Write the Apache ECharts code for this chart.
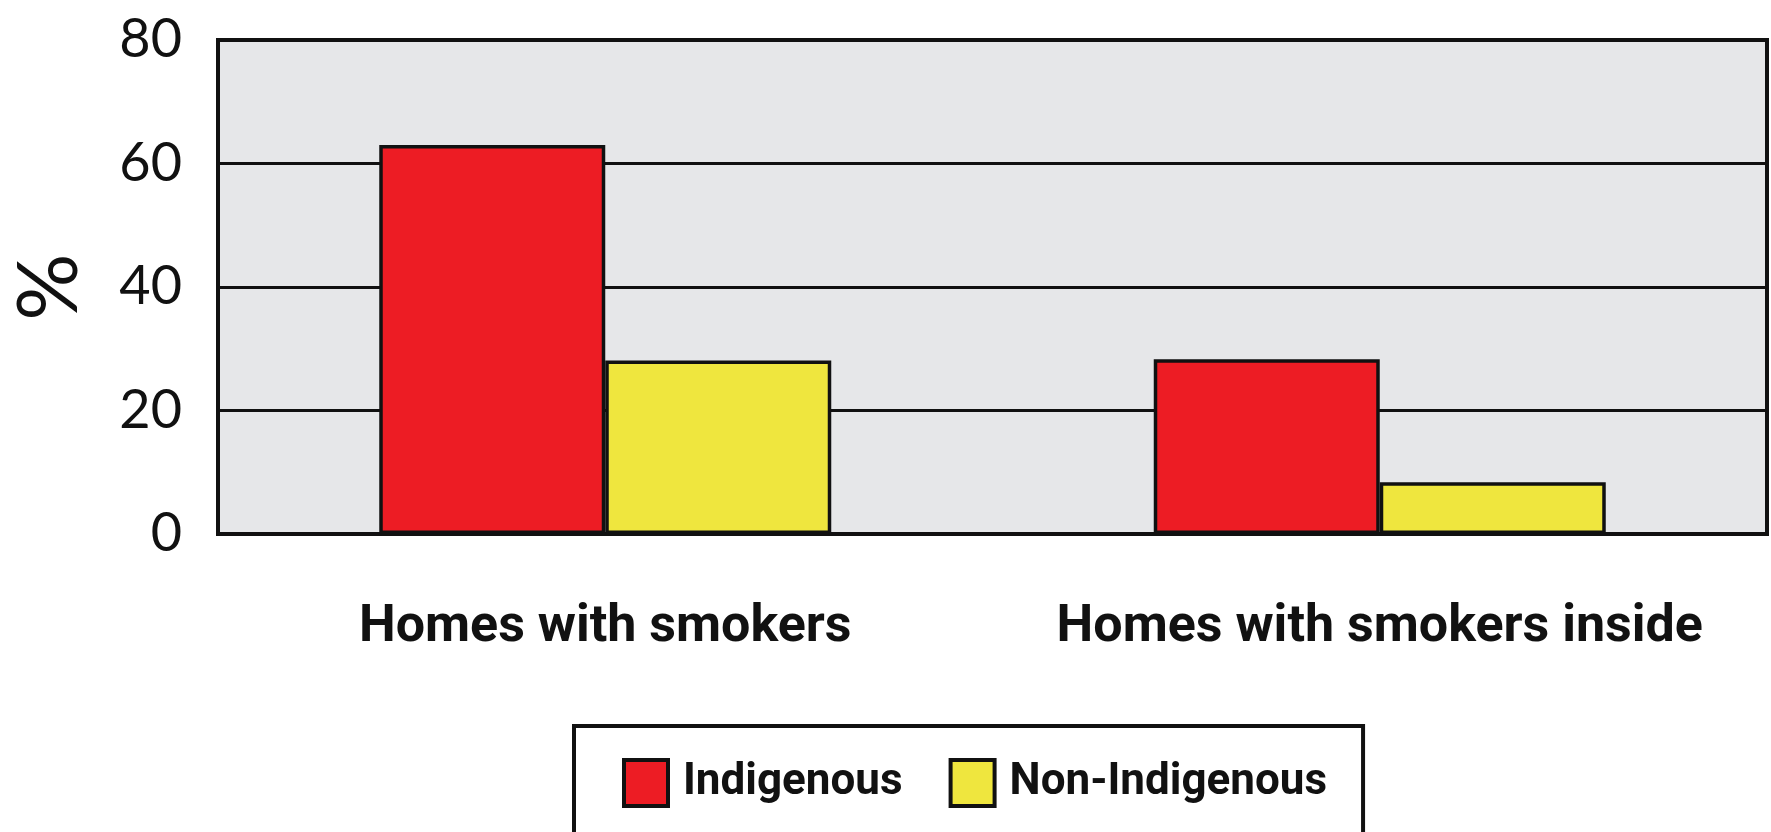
<!DOCTYPE html>
<html><head><meta charset="utf-8">
<script src="https://cdn.jsdelivr.net/npm/echarts@6/dist/echarts.min.js"></script>
<style>html,body{margin:0;padding:0;background:#fff}#c{width:1771px;height:832px}</style>
</head><body><div id="c"></div>
<script>
const categories = ['Homes with smokers', 'Homes with smokers inside'];
const indigenous = [63, 28.3];
const nonIndigenous = [28.1, 8.4];
const yTicks = [0, 20, 40, 60, 80];

const chart = echarts.init(document.getElementById('c'));
const boldFont = "Roboto, sans-serif";
const boldWeight = 'bold';
chart.setOption({
  animation: false,
  backgroundColor: '#ffffff',
  grid: {
    left: 193, right: 4, top: 40, bottom: 298,
    show: true, backgroundColor: '#e6e7e9', borderColor: '#111', borderWidth: 4
  },
  legend: {
    left: 574, top: 726,
    icon: 'rect',
    data: ['Indigenous', 'Non-Indigenous'],
    itemWidth: 44, itemHeight: 46, itemGap: 46,
    padding: [32, 36, 80, 48],
    borderColor: '#111', borderWidth: 4, backgroundColor: '#fff',
    textStyle: { fontFamily: boldFont, fontWeight: boldWeight, fontSize: 44, color: '#111', padding: [0, 0, 0, 10] },
    itemStyle: { borderColor: '#111', borderWidth: 4 }
  },
  xAxis: {
    type: 'category', data: categories,
    axisLine: { lineStyle: { color: '#111', width: 4 } },
    axisTick: { show: false },
    axisLabel: { interval: 0, fontFamily: boldFont, fontWeight: boldWeight, fontSize: 52, color: '#111', margin: 68 }
  },
  yAxis: {
    type: 'value', min: 0, max: 80, interval: 20,
    name: '%', nameLocation: 'middle', nameGap: 126, nameRotate: 90,
    nameTextStyle: { fontFamily: 'Lato, sans-serif', fontSize: 84, color: '#111' },
    axisLine: { show: false }, axisTick: { show: false },
    splitLine: { lineStyle: { color: '#111', width: 3 } },
    axisLabel: {
      fontFamily: 'Lato, sans-serif', fontSize: 54, color: '#111', margin: 36,
      formatter: v => yTicks.includes(v) ? String(v) : ''
    }
  },
  series: [
    { name: 'Indigenous', type: 'bar', data: indigenous, barWidth: 226, barGap: '0%',
      itemStyle: { color: '#ed1c24', borderColor: '#111', borderWidth: 3.5 } },
    { name: 'Non-Indigenous', type: 'bar', data: nonIndigenous, barWidth: 226, barGap: '0%',
      itemStyle: { color: '#efe63e', borderColor: '#111', borderWidth: 3.5 } }
  ]
});
</script></body></html>
